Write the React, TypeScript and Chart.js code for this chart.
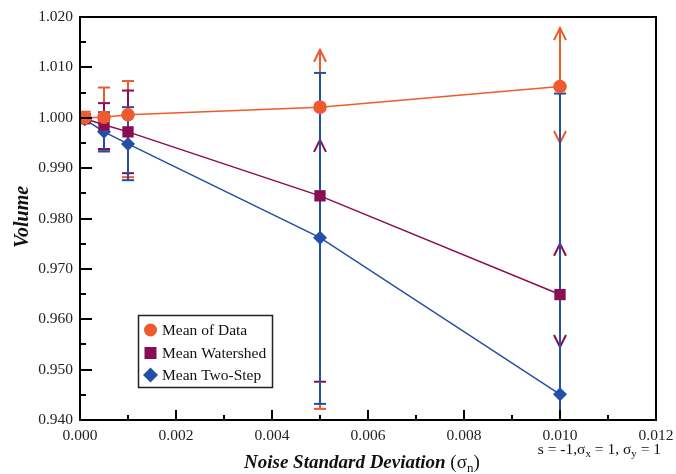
import React, { useEffect, useRef } from 'react';
import { Chart, registerables } from 'chart.js';
Chart.register(...registerables);

// ---- data ----
const noise = [0.0001, 0.0005, 0.001, 0.005, 0.01];
const meanData = [1.0, 1.0001, 1.0006, 1.0021, 1.0062];
const meanWatershed = [0.9998, 0.9986, 0.9972, 0.9845, 0.9649];
const meanTwoStep = [0.9997, 0.9972, 0.9948, 0.9762, 0.9451];

const dataLow = [0.999, 0.9936, 0.9882, 0.9422, 0.995];
const dataHigh = [1.0012, 1.006, 1.0073, 1.0135, 1.0178];
const dataLowEnd = ['cap', 'cap', 'cap', 'cap', 'arrow'];
const dataHighEnd = ['cap', 'cap', 'cap', 'arrow', 'arrow'];

const wsLow = [0.9991, 0.9938, 0.989, 0.9476, 0.9545];
const wsHigh = [1.0007, 1.0029, 1.0054, 0.9956, 0.975];
const wsLowEnd = ['cap', 'cap', 'cap', 'cap', 'arrow'];
const wsHighEnd = ['cap', 'cap', 'cap', 'arrow', 'arrow'];

const tsLow = [0.9993, 0.9933, 0.9876, 0.9432, 0.938];
const tsHigh = [1.0004, 1.0011, 1.0021, 1.0089, 1.0048];
const tsLowEnd = ['cap', 'cap', 'cap', 'cap', 'none'];
const tsHighEnd = ['cap', 'cap', 'cap', 'cap', 'cap'];

const seriesNames = ['Mean of Data', 'Mean Watershed', 'Mean Two-Step'];
const yTicks = [0.94, 0.95, 0.96, 0.97, 0.98, 0.99, 1.0, 1.01, 1.02];
const xTicks = [0, 0.002, 0.004, 0.006, 0.008, 0.01, 0.012];

const ORANGE = '#F05A2C';
const PURPLE = '#8A0C52';
const BLUE = '#2150A6';
const SERIF = '"Liberation Serif", "DejaVu Serif", serif';

const errorSets = [
  { color: ORANGE, low: dataLow, high: dataHigh, lowEnd: dataLowEnd, highEnd: dataHighEnd },
  { color: PURPLE, low: wsLow, high: wsHigh, lowEnd: wsLowEnd, highEnd: wsHighEnd },
  { color: BLUE, low: tsLow, high: tsHigh, lowEnd: tsLowEnd, highEnd: tsHighEnd },
];

function drawEnd(ctx: CanvasRenderingContext2D, px: number, py: number, kind: string, up: boolean) {
  if (kind === 'cap') {
    ctx.beginPath();
    ctx.moveTo(px - 6, py);
    ctx.lineTo(px + 6, py);
    ctx.stroke();
  } else if (kind === 'arrow') {
    const d = up ? 12 : -12;
    ctx.beginPath();
    ctx.moveTo(px - 6, py + d);
    ctx.lineTo(px, py);
    ctx.lineTo(px + 6, py + d);
    ctx.stroke();
  }
}

const errorBarPlugin = {
  id: 'errorBars',
  beforeDatasetsDraw(chart: any) {
    const { ctx, chartArea, scales } = chart;
    const xs = scales.x, ys = scales.y;
    ctx.save();
    ctx.beginPath();
    ctx.rect(chartArea.left, chartArea.top, chartArea.right - chartArea.left, chartArea.bottom - chartArea.top);
    ctx.clip();
    ctx.lineWidth = 2;
    errorSets.forEach((s) => {
      ctx.strokeStyle = s.color;
      noise.forEach((n, i) => {
        const px = xs.getPixelForValue(n);
        const pl = ys.getPixelForValue(s.low[i]);
        const ph = ys.getPixelForValue(s.high[i]);
        ctx.beginPath();
        ctx.moveTo(px, pl);
        ctx.lineTo(px, ph);
        ctx.stroke();
        drawEnd(ctx, px, pl, s.lowEnd[i], false);
        drawEnd(ctx, px, ph, s.highEnd[i], true);
      });
    });
    ctx.restore();
  },
};

function drawRuns(ctx: CanvasRenderingContext2D, runs: { t: string; font: string; dy?: number }[], x: number, y: number) {
  let cx = x;
  runs.forEach((r) => {
    ctx.font = r.font;
    ctx.fillText(r.t, cx, y + (r.dy || 0));
    cx += ctx.measureText(r.t).width;
  });
  return cx - x;
}
function measureRuns(ctx: CanvasRenderingContext2D, runs: { t: string; font: string }[]) {
  let w = 0;
  runs.forEach((r) => {
    ctx.font = r.font;
    w += ctx.measureText(r.t).width;
  });
  return w;
}

const decorPlugin = {
  id: 'decor',
  afterDraw(chart: any) {
    const { ctx, chartArea, scales } = chart;
    const xs = scales.x, ys = scales.y;
    const { left, right, top, bottom } = chartArea;
    ctx.save();
    // ticks
    ctx.strokeStyle = '#000';
    ctx.lineWidth = 2;
    for (let k = 0; k <= 16; k++) {
      const v = 0.94 + k * 0.005;
      const py = Math.round(ys.getPixelForValue(v));
      const len = k % 2 === 0 ? 12 : 6;
      ctx.beginPath();
      ctx.moveTo(left, py);
      ctx.lineTo(left + len, py);
      ctx.stroke();
    }
    for (let k = 0; k <= 12; k++) {
      const v = k * 0.001;
      const px = Math.round(xs.getPixelForValue(v));
      const len = k % 2 === 0 ? 10 : 5;
      ctx.beginPath();
      ctx.moveTo(px, bottom);
      ctx.lineTo(px, bottom - len);
      ctx.stroke();
    }
    // frame
    ctx.lineWidth = 2;
    ctx.strokeRect(left, top, right - left, bottom - top);

    // legend
    const lx = 138, ly = 315, lw = 134, lh = 72;
    ctx.fillStyle = '#fff';
    ctx.fillRect(lx, ly, lw, lh);
    ctx.lineWidth = 1.5;
    ctx.strokeStyle = '#222';
    ctx.strokeRect(lx + 0.5, ly + 0.5, lw, lh);
    const rows = [330, 353, 375];
    const cols = [ORANGE, PURPLE, BLUE];
    rows.forEach((ry, i) => {
      ctx.fillStyle = cols[i];
      const mx = 150.5;
      ctx.beginPath();
      if (i === 0) ctx.arc(mx, ry, 6.5, 0, Math.PI * 2);
      else if (i === 1) ctx.rect(mx - 6, ry - 6, 12, 12);
      else {
        ctx.moveTo(mx, ry - 7.5);
        ctx.lineTo(mx + 7.5, ry);
        ctx.lineTo(mx, ry + 7.5);
        ctx.lineTo(mx - 7.5, ry);
        ctx.closePath();
      }
      ctx.fill();
      ctx.fillStyle = '#111';
      ctx.font = `15.5px ${SERIF}`;
      ctx.textAlign = 'left';
      ctx.textBaseline = 'middle';
      ctx.fillText(seriesNames[i], 162, ry + 1);
    });

    // y title
    ctx.save();
    ctx.translate(23, 217);
    ctx.rotate(-Math.PI / 2);
    ctx.font = `bold italic 20px ${SERIF}`;
    ctx.textAlign = 'center';
    ctx.textBaseline = 'middle';
    ctx.fillStyle = '#111';
    ctx.fillText('Volume', 0, 0);
    ctx.restore();

    // x title
    ctx.fillStyle = '#111';
    ctx.textAlign = 'left';
    ctx.textBaseline = 'alphabetic';
    const bi = `bold italic 19px ${SERIF}`;
    const rg = `19px ${SERIF}`;
    const sub = `13px ${SERIF}`;
    drawRuns(ctx, [
      { t: 'Noise Standard Deviation ', font: bi },
      { t: '(σ', font: rg },
      { t: 'n', font: sub, dy: 4 },
      { t: ')', font: rg },
    ], 244, 468);

    // annotation
    const af = `15.5px ${SERIF}`;
    const as = `11px ${SERIF}`;
    const ann = [
      { t: 's = -1,σ', font: af },
      { t: 'x', font: as, dy: 3 },
      { t: ' = 1, σ', font: af },
      { t: 'y', font: as, dy: 3 },
      { t: ' = 1', font: af },
    ];
    const aw = measureRuns(ctx, ann);
    drawRuns(ctx, ann, 661 - aw, 454);
    ctx.restore();
  },
};

export default function App() {
  const ref = useRef<HTMLCanvasElement | null>(null);
  useEffect(() => {
    document.body.style.margin = '0';
    const canvas = ref.current;
    if (!canvas) return;
    const mk = (vals: number[]) => noise.map((n, i) => ({ x: n, y: vals[i] }));
    const chart = new Chart(canvas, {
      type: 'line',
      data: {
        datasets: [
          {
            label: seriesNames[0],
            data: mk(meanData),
            borderColor: ORANGE,
            backgroundColor: ORANGE,
            borderWidth: 1.5,
            pointStyle: 'circle',
            pointRadius: 6.8,
            pointBorderWidth: 0,
            pointBackgroundColor: ORANGE,
          },
          {
            label: seriesNames[1],
            data: mk(meanWatershed),
            borderColor: PURPLE,
            backgroundColor: PURPLE,
            borderWidth: 1.5,
            pointStyle: 'rect',
            pointRadius: 8,
            pointBorderWidth: 0,
            pointBackgroundColor: PURPLE,
          },
          {
            label: seriesNames[2],
            data: mk(meanTwoStep),
            borderColor: BLUE,
            backgroundColor: BLUE,
            borderWidth: 1.5,
            pointStyle: 'rectRot',
            pointRadius: 7,
            pointBorderWidth: 0,
            pointBackgroundColor: BLUE,
          },
        ],
      },
      options: {
        animation: false,
        responsive: false,
        events: [],
        layout: { padding: { left: 0, right: 20, top: 17, bottom: 0 } },
        plugins: { legend: { display: false }, tooltip: { enabled: false } },
        scales: {
          x: {
            type: 'linear',
            min: 0,
            max: 0.012,
            afterFit: (s: any) => { s.height = 54; s.paddingLeft = 0; s.paddingRight = 0; },
            afterBuildTicks: (s: any) => { s.ticks = xTicks.map((v) => ({ value: v })); },
            grid: { display: false, drawTicks: false },
            border: { display: false },
            ticks: {
              padding: 7,
              color: '#222',
              font: { family: SERIF, size: 15.5 },
              callback: (v: any) => Number(v).toFixed(3),
              maxRotation: 0,
              autoSkip: false,
            },
          },
          y: {
            type: 'linear',
            min: 0.94,
            max: 1.02,
            afterFit: (s: any) => { s.width = 80; s.paddingTop = 0; s.paddingBottom = 0; },
            afterBuildTicks: (s: any) => { s.ticks = yTicks.map((v) => ({ value: v })); },
            grid: { display: false, drawTicks: false },
            border: { display: false },
            ticks: {
              padding: 7,
              color: '#222',
              font: { family: SERIF, size: 15.5 },
              callback: (v: any) => Number(v).toFixed(3),
              autoSkip: false,
            },
          },
        },
      },
      plugins: [errorBarPlugin, decorPlugin],
    } as any);
    return () => chart.destroy();
  }, []);
  return (
    <div style={{ width: 676, height: 474 }}>
      <canvas ref={ref} width={676} height={474} style={{ display: 'block', width: 676, height: 474 }} />
    </div>
  );
}
